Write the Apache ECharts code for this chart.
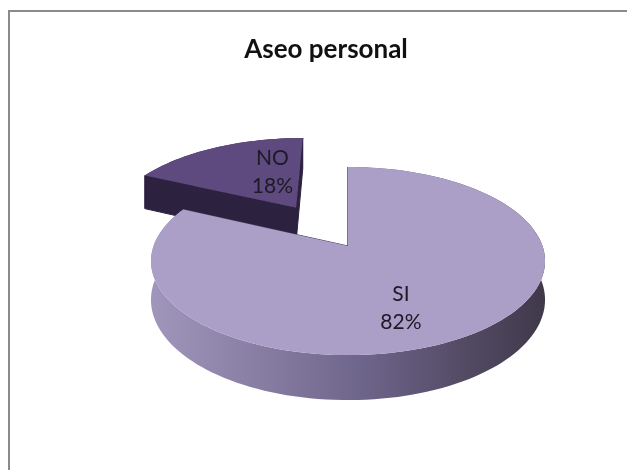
<!DOCTYPE html>
<html><head><meta charset="utf-8">
<script src="https://cdn.jsdelivr.net/npm/echarts@6/dist/echarts.min.js"></script>
<style>html,body{margin:0;padding:0;background:#fff}#c{width:627px;height:470px}</style>
</head><body><div id="c"></div>
<script>
// ---- data ----
const categories = ['SI', 'NO'];
const values = [82, 18];
const chartTitle = 'Aseo personal';

// ---- view / style (not data) ----
const VIEW = {cx: 348, cy: 246, rx: 194.5, ry: 52.3, k: 0.16, depth: 37.8};
const explode = {NO: 0.535};
const topColors = {SI: '#ab9fc7', NO: '#5e4a7e'};
const cutColors = {SI: '#4d4360', NO: '#2d2140'};
const labelNudge = {SI: [-3, 21], NO: [19, -3]};

function project(u, v, down) {
  const d = 1 - VIEW.k * v;
  return [VIEW.cx + VIEW.rx * u / d, (VIEW.ry * v + VIEW.cy) / d + (down ? VIEW.depth / d : 0)];
}
function sideFill(name) {
  if (name === 'SI') {
    return new echarts.graphic.LinearGradient(152, 0, 548, 0, [
      {offset: 0, color: '#a096bb'},
      {offset: 0.3, color: '#857ba1'},
      {offset: 0.55, color: '#6c6388'},
      {offset: 0.8, color: '#524a63'},
      {offset: 1, color: '#3f3849'}
    ], true);
  }
  return '#3b2d52';
}

const total = values.reduce((a, b) => a + b, 0);
let acc = 0;
const seriesData = values.map((v, i) => {
  const s = acc / total; acc += v; const e = acc / total;
  return {name: categories[i], value: [s, e, v]};
});

const chart = echarts.init(document.getElementById('c'), null, {renderer: 'canvas'});
chart.setOption({
  backgroundColor: '#ffffff',
  animation: false,
  title: {
    text: chartTitle, left: 321, top: 32, textAlign: 'center',
    textStyle: {fontFamily: 'Lato', fontWeight: 'bold', fontSize: 26, color: '#111'}
  },
  graphic: [{
    type: 'rect', shape: {x: 9, y: 11, width: 700, height: 500},
    style: {fill: 'none', stroke: '#8a8a8a', lineWidth: 2}, silent: true
  }],
  series: [{
    type: 'custom',
    coordinateSystem: 'none',
    data: seriesData,
    renderItem: function (params, api) {
      const name = categories[params.dataIndex];
      const a0 = api.value(0) * 2 * Math.PI, a1 = api.value(1) * 2 * Math.PI;
      const pct = Math.round(api.value(2) / total * 100);
      const mid = (a0 + a1) / 2;
      const e = explode[name] || 0;
      const ou = e * Math.sin(mid), ov = -e * Math.cos(mid);
      const P = (r, t, down) => project(ou + r * Math.sin(t), ov - r * Math.cos(t), down);
      const n = Math.max(2, Math.ceil((a1 - a0) / (Math.PI / 90)));
      const topArc = [], botArc = [];
      for (let i = 0; i <= n; i++) {
        const t = a0 + (a1 - a0) * i / n;
        topArc.push(P(1, t, false)); botArc.push(P(1, t, true));
      }
      const cTop = P(0, 0, false), cBot = P(0, 0, true);
      const z = Math.round((ov - Math.cos(mid) + 3) * 10) * 10;
      const cut = cutColors[name];
      const lp = P(0.5, mid, false);
      const nudge = labelNudge[name] || [0, 0];
      return {
        type: 'group',
        children: [
          {type: 'polygon', z2: z, shape: {points: topArc.concat(botArc.slice().reverse())},
            style: {fill: sideFill(name)}},
          {type: 'polygon', z2: z + 1, shape: {points: [cTop, topArc[0], botArc[0], cBot]},
            style: {fill: cut, stroke: cut, lineWidth: 1}},
          {type: 'polygon', z2: z + 1, shape: {points: [cTop, topArc[n], botArc[n], cBot]},
            style: {fill: cut, stroke: cut, lineWidth: 1}},
          {type: 'polygon', z2: z + 2, shape: {points: [cTop].concat(topArc)},
            style: {fill: topColors[name]}},
          {type: 'text', z2: z + 3, style: {
            text: name + '\n' + pct + '%', x: lp[0] + nudge[0], y: lp[1] + nudge[1],
            align: 'center', verticalAlign: 'middle',
            font: '21px Lato', lineHeight: 28, fill: '#1c1a24'
          }}
        ]
      };
    }
  }]
});
</script>
</body></html>
